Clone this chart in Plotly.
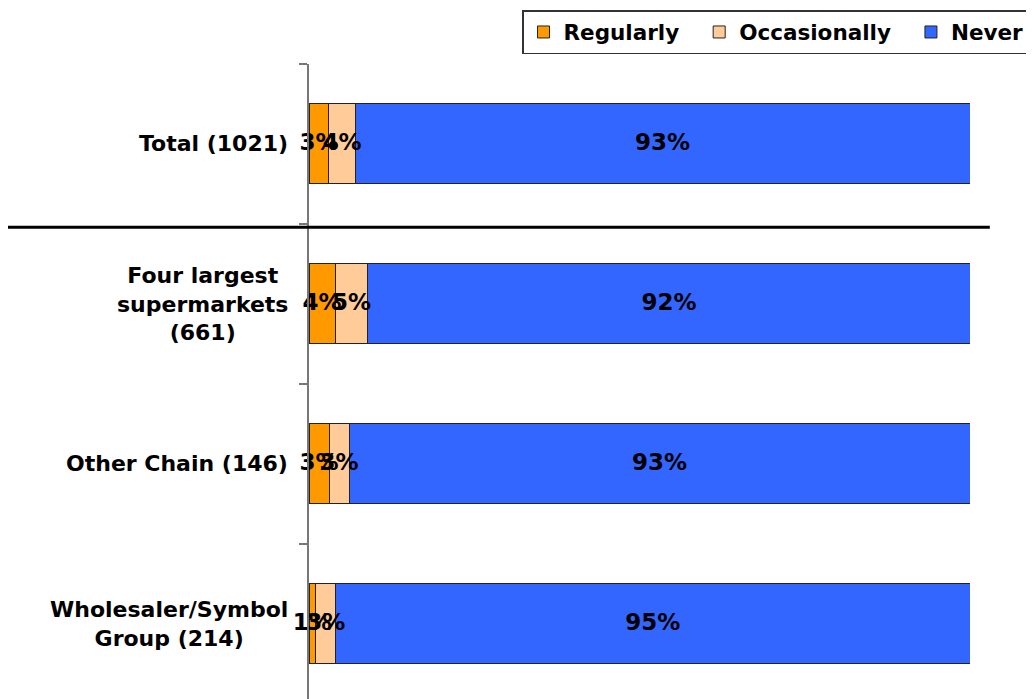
import plotly.graph_objects as go

categories = ["Total (1021)", "Four largest<br>supermarkets<br>(661)", "Other Chain (146)", "Wholesaler/Symbol<br>Group (214)"]
regularly = [3, 4, 3, 1]
occasionally = [4, 5, 3, 3]
never = [93, 92, 93, 95]
series_names = ["Regularly", "Occasionally", "Never"]
series_colors = ["#FF9900", "#FFCC99", "#3366FF"]

FONT = "DejaVu Sans"
PAD = "\u00a0\u00a0"
series = [regularly, occasionally, never]
fig = go.Figure()
for k, (name, vals, col) in enumerate(zip(series_names, series, series_colors)):
    fig.add_trace(go.Bar(
        y=categories, x=vals, name=name + (PAD if k < len(series) - 1 else ""),
        orientation="h",
        marker=dict(color=col, line=dict(color="#222222", width=1)),
        width=0.5, hoverinfo="x+name",
    ))

# value labels drawn on top of all bars, centred in each (normalized) segment
totals = [sum(v) for v in zip(*series)]
for k, vals in enumerate(series):
    starts = [sum(series[j][i] for j in range(k)) for i in range(len(categories))]
    mids = [(starts[i] + vals[i] / 2) * 100 / totals[i] for i in range(len(categories))]
    fig.add_trace(go.Scatter(
        x=mids, y=categories, mode="text", text=[f"{v}%" for v in vals],
        textposition="middle center", showlegend=False, hoverinfo="skip",
        cliponaxis=False,
        textfont=dict(family=FONT, size=23, color="black", weight="bold"),
    ))

annotations = [dict(xref="paper", yref="y", x=0, y=c, text=c, showarrow=False,
                    xanchor="right", yanchor="middle", align="center", xshift=-19,
                    font=dict(family=FONT, size=22, color="black", weight="bold"))
               for c in categories]

W, H = 1026, 691
fig.update_layout(
    barmode="stack", barnorm="percent",
    width=W, height=H,
    margin=dict(l=301, r=64, t=56, b=0, autoexpand=False),
    plot_bgcolor="white", paper_bgcolor="white",
    font=dict(family=FONT, size=20, color="black", weight="bold"),
    bargap=0.5,
    legend=dict(
        orientation="h", xref="container", yref="container",
        x=1022 / W, xanchor="right", y=1 - 2 / H, yanchor="top",
        bordercolor="#333333", borderwidth=1.5,
        font=dict(family=FONT, size=21.5, color="black", weight="bold"),
        traceorder="normal", itemwidth=30,
    ),
    xaxis=dict(range=[0, 100], visible=False, fixedrange=True),
    yaxis=dict(
        range=[3.47, -0.5], showline=True, linecolor="#777777", linewidth=1.5,
        ticks="outside", ticklen=8, tickcolor="#777777", tickwidth=1.5,
        tickson="boundaries", showticklabels=False, showgrid=False,
        type="category",
    ),
    annotations=annotations,
    shapes=[dict(type="line", xref="paper", yref="y", x0=-0.4554, x1=1.03,
                 y0=0.52, y1=0.52, line=dict(color="black", width=3))],
)

fig.write_html("out.html")
